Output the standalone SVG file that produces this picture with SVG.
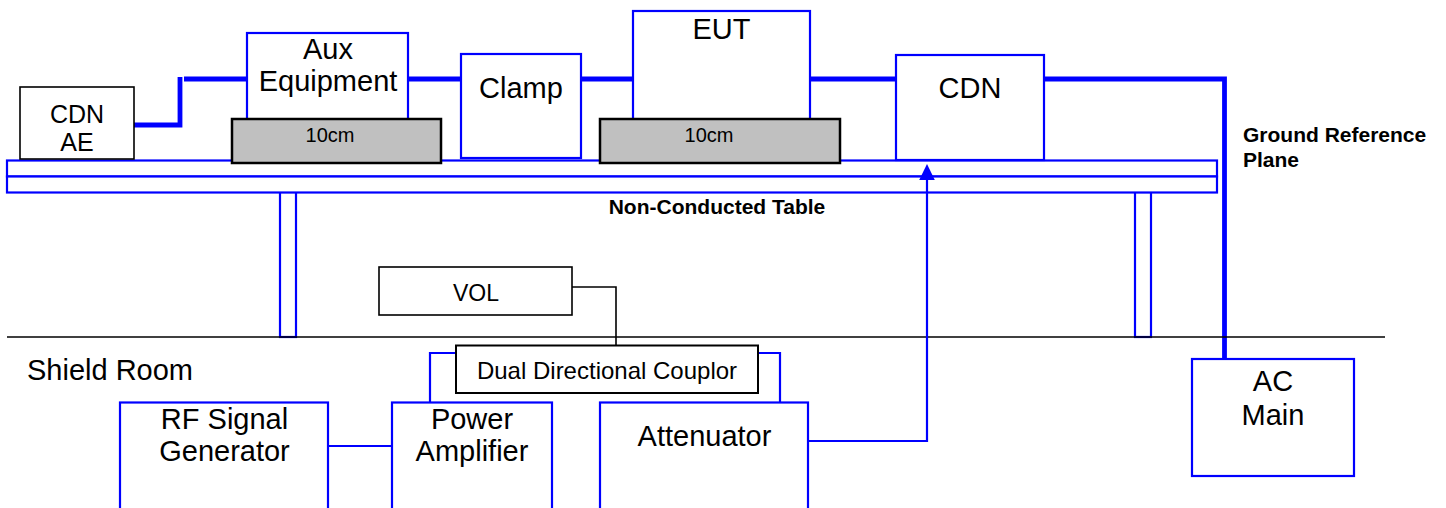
<svg xmlns="http://www.w3.org/2000/svg" width="1446" height="508" viewBox="0 0 1446 508">
<defs>
<style>
text{font-family:"Liberation Sans",Arial,sans-serif;fill:#000;text-anchor:middle}
.lbl{font-size:29px}
.bx{fill:#fff;stroke:#0000ff;stroke-width:2.2}
.bk{fill:#fff;stroke:#000;stroke-width:1.6}
.gray{fill:#c0c0c0;stroke:#000;stroke-width:2.5}
.thick{fill:none;stroke:#0000ff;stroke-width:4.8;stroke-linejoin:miter}
.thin{fill:none;stroke:#0000ff;stroke-width:2.2}
.blk{fill:none;stroke:#000;stroke-width:1.6}
.bold{font-weight:bold;font-size:21px;text-anchor:start}
</style>
</defs>
<rect width="1446" height="508" fill="#fff"/>

<g id="connectors">
<path class="thick" d="M134,125 H180 V77"/>
<path class="thick" d="M184,79 H247"/>
<path class="thick" d="M408,79 H461"/>
<path class="thick" d="M581,79 H633"/>
<path class="thick" d="M810,79 H896"/>
<path class="thick" d="M1044,79 H1224.5 V359"/>
</g>

<g id="table">
<rect x="280" y="192" width="16" height="145" class="bx"/>
<rect x="1135" y="192" width="16" height="145" class="bx"/>
<rect x="7" y="160.5" width="1210" height="16" class="bx"/>
<rect x="7" y="176.5" width="1210" height="16" class="bx"/>
<text x="717" y="214" class="bold" style="text-anchor:middle">Non-Conducted Table</text>
</g>

<g id="floor">
<line x1="7" y1="337" x2="1385" y2="337" stroke="#000" stroke-width="1.4"/>
<text x="110" y="380" class="lbl">Shield Room</text>
</g>

<g id="ground-label">
<text x="1243" y="142" class="bold">Ground Reference</text>
<text x="1243" y="167" class="bold">Plane</text>
</g>

<g id="cdn-ae">
<rect x="20" y="87" width="114" height="72" class="bk"/>
<text x="77" y="123" style="font-size:25px">CDN</text>
<text x="77" y="151" style="font-size:25px">AE</text>
</g>

<g id="aux-equipment">
<rect x="247" y="33" width="161" height="90" class="bx"/>
<text x="328" y="58.5" class="lbl">Aux</text>
<text x="328" y="90.5" class="lbl">Equipment</text>
</g>

<g id="support-1">
<rect x="232" y="119" width="209" height="44" class="gray"/>
<text x="330" y="142" style="font-size:20px">10cm</text>
</g>

<g id="clamp">
<rect x="461" y="54" width="120" height="104" class="bx"/>
<text x="521" y="97.5" class="lbl">Clamp</text>
</g>

<g id="eut">
<rect x="633" y="11" width="177" height="112" class="bx"/>
<text x="721.5" y="38.5" class="lbl">EUT</text>
</g>

<g id="support-2">
<rect x="600" y="119" width="240" height="44" class="gray"/>
<text x="709" y="142" style="font-size:20px">10cm</text>
</g>

<g id="cdn">
<rect x="896" y="55" width="148" height="105" class="bx"/>
<text x="970" y="97.5" class="lbl">CDN</text>
</g>

<g id="lower-connectors">
<path class="blk" d="M572,287 H616 V345"/>
<path class="thin" d="M456,353 H430 V402"/>
<path class="thin" d="M758,353 H780 V402"/>
<path class="thin" d="M328,446 H392"/>
<path class="thin" d="M808,441 H927 V178"/>
<polygon points="927,164 919.2,180 934.8,180" fill="#0000ff"/>
</g>

<g id="vol">
<rect x="379" y="267" width="193" height="48" class="bk"/>
<text x="476" y="301" style="font-size:23px">VOL</text>
</g>

<g id="coupler">
<rect x="456" y="345.5" width="302" height="47.5" class="bk" style="stroke-width:2"/>
<text x="607" y="379" style="font-size:24px">Dual Directional Couplor</text>
</g>

<g id="rf-generator">
<rect x="120" y="402.5" width="208" height="130" class="bx"/>
<text x="224.5" y="428.5" class="lbl">RF Signal</text>
<text x="224.5" y="461" class="lbl">Generator</text>
</g>

<g id="power-amplifier">
<rect x="392" y="402.5" width="160" height="130" class="bx"/>
<text x="472" y="428.5" class="lbl">Power</text>
<text x="472" y="460.5" class="lbl">Amplifier</text>
</g>

<g id="attenuator">
<rect x="600" y="402.5" width="208" height="130" class="bx"/>
<text x="704.5" y="445.5" class="lbl">Attenuator</text>
</g>

<g id="ac-main">
<rect x="1192" y="359" width="162" height="117" class="bx"/>
<text x="1273" y="390.5" class="lbl">AC</text>
<text x="1273" y="425" class="lbl">Main</text>
</g>
</svg>
